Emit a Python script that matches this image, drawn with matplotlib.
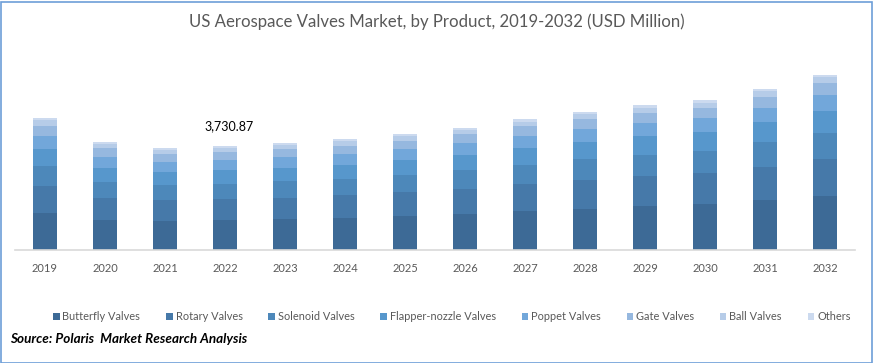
import matplotlib
matplotlib.use("Agg")
import matplotlib.pyplot as plt
from matplotlib.patches import Rectangle
import numpy as np

years = ["2019", "2020", "2021", "2022", "2023", "2024", "2025",
         "2026", "2027", "2028", "2029", "2030", "2031", "2032"]
products = ["Butterfly Valves", "Rotary Valves", "Solenoid Valves",
            "Flapper-nozzle Valves", "Poppet Valves", "Gate Valves",
            "Ball Valves", "Others"]

butterfly = [1324, 1073, 1037, 1085, 1120, 1145, 1216, 1288, 1395, 1467, 1574, 1645, 1789, 1932]
rotary    = [966, 787, 751, 740, 740, 823, 858, 894, 966, 1037, 1073, 1109, 1180, 1323]
solenoid  = [715, 572, 537, 547, 608, 572, 608, 680, 680, 751, 751, 787, 894, 930]
flapper   = [608, 501, 465, 490, 465, 501, 537, 537, 608, 608, 680, 680, 715, 787]
poppet    = [465, 393, 358, 368, 393, 393, 393, 429, 429, 465, 465, 501, 501, 572]
gate      = [358, 322, 286, 286, 286, 286, 286, 322, 358, 358, 358, 358, 393, 429]
ball      = [215, 143, 143, 143, 154, 179, 179, 143, 143, 179, 179, 179, 215, 215]
others    = [72, 72, 72, 71.87, 61, 72, 72, 72, 107, 72, 107, 107, 72, 72]

series = [butterfly, rotary, solenoid, flapper, poppet, gate, ball, others]
colors = ["#3D6A96", "#4679A9", "#4D88BA", "#5797CC", "#72A7DA",
          "#96B8DF", "#B6CCE8", "#CCDAEF"]

annot_year = "2022"
annot_text = "3,730.87"

W, H = 873, 363
fig = plt.figure(figsize=(W / 100, H / 100), dpi=100)
fig.patch.set_facecolor("white")

ax = fig.add_axes([15 / W, (H - 250) / H, 840 / W, 190 / H])
x = np.arange(len(years))
bottom = np.zeros(len(years))
handles = []
for vals, col, name in zip(series, colors, products):
    b = ax.bar(x, vals, width=0.4, bottom=bottom, color=col, label=name, linewidth=0)
    handles.append(b)
    bottom += np.array(vals, dtype=float)

ax.set_xlim(-0.5, len(years) - 0.5)
ax.set_ylim(0, 190 * 35.77)
ax.set_xticks(x)
ax.set_xticklabels(years, fontsize=8, color="#595959", family="Lato")
ax.tick_params(axis="x", length=0, pad=9)
ax.set_yticks([])
for s in ["left", "right", "top"]:
    ax.spines[s].set_visible(False)
ax.spines["bottom"].set_color("#D9D9D9")
ax.spines["bottom"].set_linewidth(1.2)

i = years.index(annot_year)
ax.text(i + 0.07, bottom[i] + 20 * 35.77, annot_text, ha="center", va="center",
        fontsize=9, color="black", family="Lato")

fig.text(0.5, 1 - 22 / H, "US Aerospace Valves Market, by Product, 2019-2032 (USD Million)",
         ha="center", va="center", fontsize=12.1, color="#595959", family="Lato")

fs = 7.9
px = fs * 100 / 72
fig.legend(handles=handles, labels=products, loc="center left",
           bbox_to_anchor=(53 / W, (H - 317) / H), ncol=8, frameon=False,
           handlelength=6.5 / px, handleheight=7 / px, handletextpad=3 / px,
           columnspacing=25.7 / px, borderpad=0, borderaxespad=0,
           prop={"family": "Lato", "size": fs}, labelcolor="#595959")

fig.text(10 / W, 1 - 339 / H, "Source: Polaris  Market Research Analysis",
         ha="left", va="center", fontsize=9.7, fontweight="bold", fontstyle="italic",
         color="black", family="Lato")

fig.patches.append(Rectangle((0.5 / W, 0.5 / H), 1 - 2 / W, 1 - 2 / H,
                             transform=fig.transFigure, fill=False,
                             edgecolor="#6D9ED8", linewidth=1.2))

fig.savefig("out.png", dpi=100, facecolor="white")
